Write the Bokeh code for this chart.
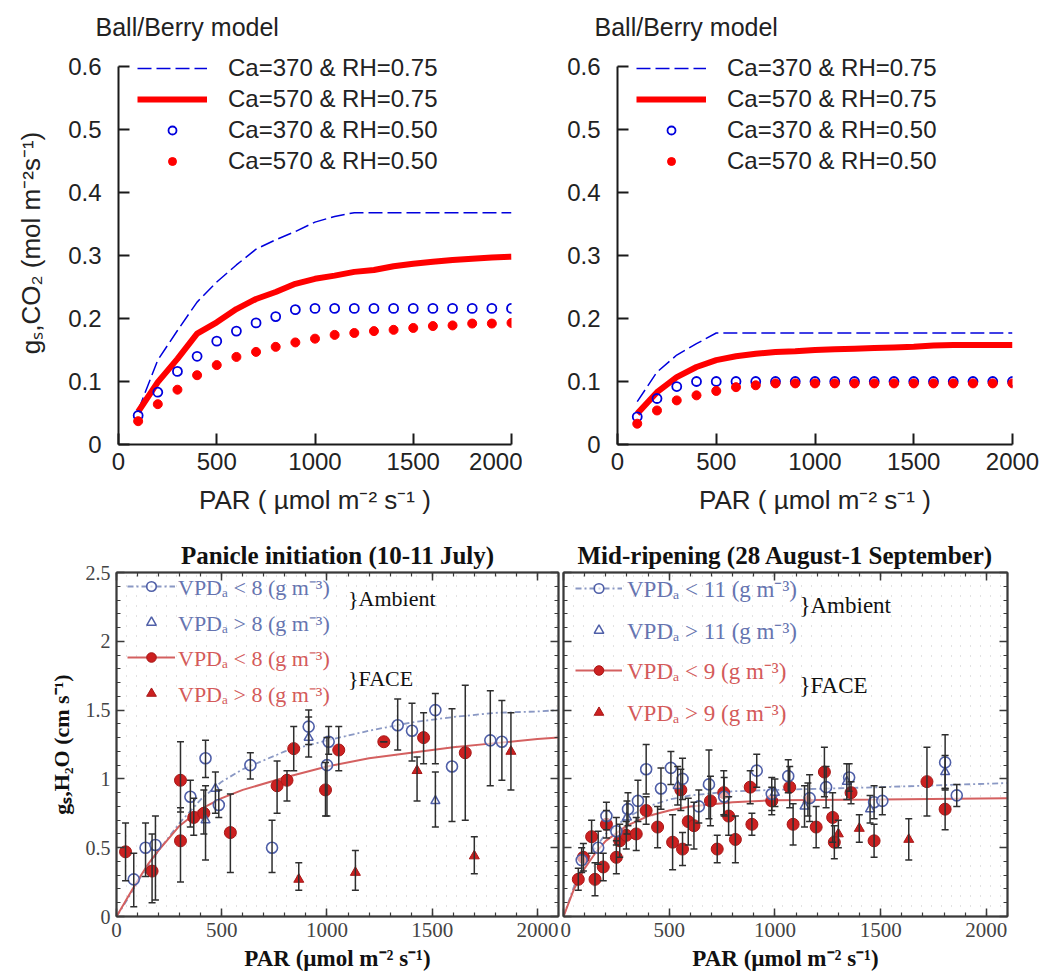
from bokeh.plotting import figure
from bokeh.layouts import column, row
from bokeh.models import (ColumnDataSource, Legend, LegendItem, Whisker, TeeHead,
                          SingleIntervalTicker, FixedTicker, LinearAxis, Label, Range1d)
from bokeh.embed import file_html
from bokeh.resources import INLINE

SANS = "Liberation Sans"
SERIF = "Liberation Serif"

# ---------------- top panels: Ball/Berry model ----------------
par_model = [100, 200, 300, 400, 500, 600, 700, 800, 900, 1000,
             1100, 1200, 1300, 1400, 1500, 1600, 1700, 1800, 1900, 2000]

tl_ca370_rh75 = [0.054, 0.134, 0.181, 0.226, 0.258, 0.285, 0.310, 0.325, 0.338, 0.353,
                 0.362, 0.368, 0.368, 0.368, 0.368, 0.368, 0.368, 0.368, 0.368, 0.368]
tl_ca570_rh75 = [0.052, 0.099, 0.136, 0.176, 0.194, 0.215, 0.231, 0.242, 0.255, 0.263,
                 0.268, 0.274, 0.277, 0.283, 0.287, 0.290, 0.293, 0.295, 0.297, 0.298]
tl_ca370_rh50 = [0.046, 0.083, 0.116, 0.140, 0.164, 0.180, 0.193, 0.203, 0.214, 0.216,
                 0.216, 0.216, 0.216, 0.216, 0.216, 0.216, 0.216, 0.216, 0.216, 0.216]
tl_ca570_rh50 = [0.037, 0.064, 0.087, 0.110, 0.126, 0.139, 0.147, 0.155, 0.162, 0.168,
                 0.174, 0.177, 0.180, 0.182, 0.185, 0.188, 0.189, 0.192, 0.192, 0.193]

tr_ca370_rh75 = [0.068, 0.115, 0.142, 0.160, 0.177, 0.177, 0.177, 0.177, 0.177, 0.177,
                 0.177, 0.177, 0.177, 0.177, 0.177, 0.177, 0.177, 0.177, 0.177, 0.177]
tr_ca570_rh75 = [0.049, 0.083, 0.107, 0.123, 0.134, 0.140, 0.144, 0.147, 0.148, 0.150,
                 0.151, 0.152, 0.153, 0.154, 0.155, 0.157, 0.158, 0.158, 0.158, 0.158]
tr_ca370_rh50 = [0.044, 0.073, 0.092, 0.100, 0.100, 0.100, 0.100, 0.100, 0.100, 0.100,
                 0.100, 0.100, 0.100, 0.100, 0.100, 0.100, 0.100, 0.100, 0.100, 0.100]
tr_ca570_rh50 = [0.033, 0.054, 0.070, 0.078, 0.085, 0.091, 0.094, 0.097, 0.097, 0.097,
                 0.097, 0.097, 0.097, 0.097, 0.097, 0.097, 0.097, 0.097, 0.097, 0.097]

top_legend_labels = ["Ca=370 & RH=0.75", "Ca=570 & RH=0.75",
                     "Ca=370 & RH=0.50", "Ca=570 & RH=0.50"]
top_x_ticks = [0, 500, 1000, 1500, 2000]
top_y_ticks = [0, 0.1, 0.2, 0.3, 0.4, 0.5, 0.6]
top_y_tick_labels = ["0", "0.1", "0.2", "0.3", "0.4", "0.5", "0.6"]

# ---------------- bottom-left: Panicle initiation ----------------
bl_curve_par = [0, 50, 100, 150, 200, 300, 400, 500, 600, 800, 1000, 1200, 1400, 1600, 1800, 2000, 2100]
bl_face_curve = [0.0, 0.13, 0.26, 0.38, 0.48, 0.66, 0.78, 0.86, 0.92, 1.01, 1.09, 1.15, 1.19, 1.23, 1.26, 1.29, 1.30]
bl_amb_curve = [0.0, 0.12, 0.25, 0.37, 0.48, 0.68, 0.85, 0.98, 1.07, 1.20, 1.28, 1.35, 1.41, 1.45, 1.48, 1.49, 1.50]

bl_amb_lt_par = [82, 138, 185, 351, 423, 486, 636, 739, 913, 1008, 1000, 1336, 1404, 1515, 1594, 1776, 1831]
bl_amb_lt_g = [0.27, 0.50, 0.52, 0.87, 1.15, 0.81, 1.10, 0.50, 1.38, 1.27, 1.10, 1.39, 1.35, 1.50, 1.09, 1.28, 1.27]
bl_amb_lt_lo = [0.07, 0.29, 0.12, 0.65, 1.01, 0.72, 1.00, 0.32, 1.25, 1.18, 0.73, 1.21, 1.13, 1.11, 0.69, 0.95, 0.99]
bl_amb_lt_hi = [0.46, 0.68, 0.73, 0.99, 1.28, 0.92, 1.19, 0.70, 1.50, 1.38, 1.30, 1.58, 1.55, 1.62, 1.51, 1.64, 1.57]

bl_amb_gt_par = [423, 470, 913, 1515]
bl_amb_gt_g = [0.70, 0.93, 1.30, 0.84]
bl_amb_gt_lo = [0.41, 0.75, 1.16, 0.65]
bl_amb_gt_hi = [0.95, 1.05, 1.45, 1.05]

bl_face_lt_par = [43, 169, 304, 304, 367, 415, 541, 763, 810, 842, 993, 1056, 1270, 1459, 1657]
bl_face_lt_g = [0.47, 0.33, 0.99, 0.55, 0.72, 0.75, 0.61, 0.95, 0.99, 1.22, 0.92, 1.21, 1.27, 1.30, 1.19]
bl_face_lt_lo = [0.26, 0.10, 0.76, 0.25, 0.59, 0.60, 0.32, 0.75, 0.84, 1.06, 0.73, 1.06, 1.27, 1.11, 0.70]
bl_face_lt_hi = [0.68, 0.60, 1.27, 0.79, 0.86, 0.92, 0.89, 1.13, 1.06, 1.38, 1.12, 1.38, 1.27, 1.48, 1.68]

bl_face_gt_par = [866, 1135, 1428, 1700, 1874]
bl_face_gt_g = [0.27, 0.32, 1.06, 0.44, 1.20]
bl_face_gt_lo = [0.19, 0.19, 0.84, 0.31, 0.92]
bl_face_gt_hi = [0.39, 0.48, 1.16, 0.58, 1.48]

bl_labels = ["VPDₐ < 8 (g m⁻³)", "VPDₐ > 8 (g m⁻³)", "VPDₐ < 8 (g m⁻³)", "VPDₐ > 8 (g m⁻³)"]

# ---------------- bottom-right: Mid-ripening ----------------
br_curve_par = [0, 50, 100, 150, 200, 300, 400, 500, 600, 800, 1000, 1500, 2100]
br_face_curve = [0.0, 0.20, 0.35, 0.46, 0.55, 0.66, 0.73, 0.77, 0.80, 0.83, 0.845, 0.85, 0.86]
br_amb_curve = [0.0, 0.22, 0.38, 0.50, 0.60, 0.72, 0.80, 0.85, 0.88, 0.91, 0.92, 0.94, 0.97]

br_amb_lt_par = [86, 164, 203, 250, 305, 352, 391, 461, 508, 563, 640, 688, 760, 914, 985,
                 1063, 1164, 1242, 1351, 1469, 1508, 1805, 1860]
br_amb_lt_g = [0.41, 0.50, 0.73, 0.62, 0.78, 0.84, 1.07, 0.93, 1.08, 1.00, 0.80, 0.96, 0.87, 1.06, 0.89,
               1.02, 0.86, 0.94, 1.01, 0.83, 0.84, 1.12, 0.88]
br_amb_lt_err = [0.09, 0.12, 0.10, 0.10, 0.12, 0.15, 0.18, 0.15, 0.12, 0.15, 0.12, 0.25, 0.14, 0.12, 0.12,
                 0.12, 0.17, 0.15, 0.10, 0.12, 0.10, 0.20, 0.08]

br_amb_gt_par = [300, 540, 1000, 1140, 1340, 1450, 1805]
br_amb_gt_g = [0.72, 0.95, 0.90, 0.80, 0.98, 0.78, 1.05]
br_amb_gt_err = [0.12, 0.14, 0.10, 0.15, 0.13, 0.10, 0.12]

br_face_lt_par = [70, 94, 133, 149, 188, 203, 250, 266, 297, 344, 391, 445, 516, 555, 563, 590, 617,
                  695, 727, 758, 781, 813, 883, 891, 985, 1070, 1086, 1195, 1234, 1273, 1281, 1360,
                  1469, 1719, 1805]
br_face_lt_g = [0.27, 0.43, 0.58, 0.27, 0.36, 0.67, 0.43, 0.55, 0.59, 0.60, 0.77, 0.65, 0.54, 0.92, 0.49,
                0.69, 0.66, 0.84, 0.49, 0.90, 0.73, 0.56, 0.94, 0.67, 0.84, 0.94, 0.67, 0.65, 1.05,
                0.72, 0.54, 0.90, 0.55, 0.98, 0.78]
br_face_lt_err = [0.08, 0.10, 0.12, 0.12, 0.10, 0.10, 0.12, 0.12, 0.10, 0.12, 0.10, 0.15, 0.20, 0.15, 0.12,
                  0.17, 0.17, 0.18, 0.10, 0.16, 0.14, 0.17, 0.12, 0.08, 0.10, 0.15, 0.15, 0.15, 0.18,
                  0.18, 0.12, 0.08, 0.12, 0.25, 0.15]

br_face_gt_par = [1156, 1300, 1399, 1633]
br_face_gt_g = [0.85, 0.60, 0.64, 0.56]
br_face_gt_err = [0.12, 0.10, 0.10, 0.15]

br_labels = ["VPDₐ < 11 (g m⁻³)", "VPDₐ > 11 (g m⁻³)", "VPDₐ < 9 (g m⁻³)", "VPDₐ > 9 (g m⁻³)"]

bottom_y_tick_labels = {0: "0", 0.5: "0.5", 1: "1", 1.5: "1.5", 2: "2", 2.5: "2.5"}

# ---------------- styles ----------------
BLUE = "#0000dd"
RED = "#ff0000"
AMB = "#4f5fa8"
AMB_TXT = "#6674b0"
AMB_CURVE = "#8a98c4"
FACE = "#cc2020"
FACE_TXT = "#d45a5a"
FACE_CURVE = "#d46060"
ERR = "#2e2e2e"
DOTS = "#c4c4c4"

TOP_H = 525
TOP_BORDER_TOP = 41
TOP_BORDER_BOTTOM = 81
TOP_AXIS_SPAN_PX = 378  # pixel height of the 0..0.6 axis


def top_panel(width, bl, br, ys, ylabel):
    frame_h = TOP_H - TOP_BORDER_TOP - TOP_BORDER_BOTTOM
    y_end = 0.6 * frame_h / TOP_AXIS_SPAN_PX
    p = figure(width=width, height=TOP_H, x_range=Range1d(0, 2000), y_range=Range1d(0, y_end),
               min_border_left=bl, min_border_right=br, min_border_top=TOP_BORDER_TOP,
               min_border_bottom=TOP_BORDER_BOTTOM,
               output_backend="svg", toolbar_location=None, title="Ball/Berry model")
    p.title.text_font = SANS
    p.title.text_font_size = "25px"
    p.title.text_font_style = "normal"
    p.title.text_color = "#222222"
    p.title.align = "left"
    p.title.offset = -23
    p.title.standoff = 2
    p.outline_line_color = None
    p.xgrid.visible = False
    p.ygrid.visible = False
    for ax in (p.xaxis[0], p.yaxis[0]):
        ax.axis_line_width = 2
        ax.axis_line_color = "#1a1a1a"
        ax.major_tick_in = 11
        ax.major_tick_out = 0
        ax.major_tick_line_width = 2
        ax.major_tick_line_color = "#1a1a1a"
        ax.minor_tick_line_color = None
        ax.major_label_text_font = SANS
        ax.major_label_text_font_size = "24px"
        ax.major_label_text_color = "#222222"
        ax.axis_label_text_font = SANS
        ax.axis_label_text_font_size = "26px"
        ax.axis_label_text_font_style = "normal"
        ax.axis_label_text_color = "#222222"
    p.xaxis.ticker = FixedTicker(ticks=top_x_ticks)
    p.yaxis.ticker = FixedTicker(ticks=top_y_ticks)
    p.yaxis.bounds = (top_y_ticks[0], top_y_ticks[-1])
    p.yaxis.major_label_overrides = dict(zip(top_y_ticks, top_y_tick_labels))
    p.xaxis.major_label_standoff = 8
    p.yaxis.major_label_standoff = 17
    p.xaxis.axis_label = "PAR ( µmol m⁻² s⁻¹ )"
    p.xaxis.axis_label_standoff = 12
    if ylabel:
        p.yaxis.axis_label = ylabel
        p.yaxis.axis_label_standoff = 19

    r1 = p.line(par_model, ys[0], line_color=BLUE, line_dash="14 5", line_width=1.5)
    r2 = p.line(par_model, ys[1], line_color=RED, line_width=6)
    r3 = p.scatter(par_model, ys[2], marker="circle", size=9, fill_color=None,
                   line_color=BLUE, line_width=1.8)
    r4 = p.scatter(par_model, ys[3], marker="circle", size=9, fill_color=RED,
                   line_color=RED, line_width=1)
    items = [LegendItem(label=lab, renderers=[r]) for lab, r in zip(top_legend_labels, [r1, r2, r3, r4])]
    leg = Legend(items=items, location=(19, 269), glyph_width=70, glyph_height=20,
                 label_height=20, spacing=3, padding=0, margin=0, label_standoff=21,
                 background_fill_alpha=0, border_line_color=None,
                 label_text_font=SANS, label_text_font_size="24px", label_text_color="#222222")
    p.add_layout(leg)
    return p


def style_bottom_axis(ax, show_labels):
    ax.axis_line_width = 2
    ax.axis_line_color = "#3a3a3a"
    ax.major_tick_in = 8
    ax.major_tick_out = 0
    ax.minor_tick_in = 4
    ax.minor_tick_out = 0
    ax.major_tick_line_width = 1.5
    ax.minor_tick_line_width = 1.2
    ax.major_tick_line_color = "#3a3a3a"
    ax.minor_tick_line_color = "#3a3a3a"
    ax.major_label_text_font = SERIF
    ax.axis_label_text_font = SERIF
    ax.axis_label_text_font_style = "bold"
    ax.axis_label_text_font_size = "23px"
    ax.axis_label_text_color = "#111111"
    if show_labels:
        ax.major_label_text_font_size = "21px"
        ax.major_label_text_color = "#444444"
    else:
        ax.major_label_text_font_size = "1px"
        ax.major_label_text_color = None
        ax.major_label_standoff = 0


def add_err(p, xs, lo, hi):
    src = ColumnDataSource(dict(x=xs, lo=lo, hi=hi))
    w = Whisker(source=src, base="x", lower="lo", upper="hi", line_color=ERR, line_width=1.5,
                upper_head=TeeHead(size=7, line_color=ERR, line_width=1.5),
                lower_head=TeeHead(size=7, line_color=ERR, line_width=1.5), level="glyph")
    p.add_layout(w)


def bottom_panel(width, bl, br, title, show_ylabels, d, labels, leg_pos, brace_pos, font_px, dot_step):
    p = figure(width=width, height=451, x_range=Range1d(0, 2100), y_range=Range1d(0, 2.5),
               min_border_left=bl, min_border_right=br, min_border_top=47, min_border_bottom=60,
               output_backend="svg", toolbar_location=None, title=title)
    p.title.text_font = SERIF
    p.title.text_font_size = "25px"
    p.title.text_font_style = "bold"
    p.title.text_color = "#111111"
    p.title.align = "center"
    p.title.standoff = 7
    p.outline_line_color = "#3a3a3a"
    p.outline_line_width = 1.5
    # faint dotted halftone-like background
    p.xgrid.ticker = SingleIntervalTicker(interval=dot_step)
    p.xgrid.grid_line_color = DOTS
    p.xgrid.grid_line_dash = "1 9"
    p.xgrid.grid_line_width = 1
    p.ygrid.visible = False
    p.add_layout(LinearAxis(), "above")
    p.add_layout(LinearAxis(), "right")
    for ax in p.xaxis:
        ax.ticker = SingleIntervalTicker(interval=500, num_minor_ticks=5)
    for ax in p.yaxis:
        ax.ticker = SingleIntervalTicker(interval=0.5, num_minor_ticks=5)
        ax.major_label_overrides = bottom_y_tick_labels
    style_bottom_axis(p.below[0], True)
    style_bottom_axis(p.above[0], False)
    style_bottom_axis(p.left[0], show_ylabels)
    style_bottom_axis(p.right[0], False)
    p.below[0].major_label_standoff = 6
    p.below[0].axis_label = "PAR (µmol m⁻² s⁻¹)"
    p.below[0].axis_label_standoff = 6
    if show_ylabels:
        p.left[0].major_label_text_font_size = "20px"
        p.left[0].major_label_standoff = 6
        p.left[0].axis_label = "gₛ,H₂O (cm s⁻¹)"
        p.left[0].axis_label_text_font_size = "22px"
        p.left[0].axis_label_standoff = 9

    # fitted curves
    c_amb = p.line(d["curve_par"], d["amb_curve"], line_color=AMB_CURVE, line_dash="6 3 2 3", line_width=1.8)
    c_face = p.line(d["curve_par"], d["face_curve"], line_color=FACE_CURVE, line_width=2)
    # error bars
    add_err(p, d["amb_lt_par"], d["amb_lt_lo"], d["amb_lt_hi"])
    add_err(p, d["amb_gt_par"], d["amb_gt_lo"], d["amb_gt_hi"])
    add_err(p, d["face_lt_par"], d["face_lt_lo"], d["face_lt_hi"])
    add_err(p, d["face_gt_par"], d["face_gt_lo"], d["face_gt_hi"])
    # markers
    s_face_lt = p.scatter(d["face_lt_par"], d["face_lt_g"], marker="circle", size=12,
                          fill_color=FACE, line_color="#a81818", line_width=1)
    s_face_gt = p.scatter(d["face_gt_par"], d["face_gt_g"], marker="triangle", size=10,
                          fill_color=FACE, line_color="#a81818", line_width=1)
    s_amb_lt = p.scatter(d["amb_lt_par"], d["amb_lt_g"], marker="circle", size=11,
                         fill_color="white", fill_alpha=0.6, line_color=AMB, line_width=1.6)
    s_amb_gt = p.scatter(d["amb_gt_par"], d["amb_gt_g"], marker="triangle", size=9,
                         fill_color="white", fill_alpha=0.6, line_color=AMB, line_width=1.5)

    (ax_, ay_), (fx_, fy_), gw, std, sp = leg_pos
    leg_amb = Legend(items=[LegendItem(label=labels[0], renderers=[c_amb, s_amb_lt]),
                            LegendItem(label=labels[1], renderers=[s_amb_gt])],
                     location=(ax_, ay_), glyph_width=gw, glyph_height=24, label_height=24,
                     spacing=sp, padding=0, margin=0, label_standoff=std,
                     background_fill_alpha=0, border_line_color=None,
                     label_text_font=SERIF, label_text_font_size=font_px, label_text_color=AMB_TXT)
    leg_face = Legend(items=[LegendItem(label=labels[2], renderers=[c_face, s_face_lt]),
                             LegendItem(label=labels[3], renderers=[s_face_gt])],
                      location=(fx_, fy_), glyph_width=gw, glyph_height=24, label_height=24,
                      spacing=sp, padding=0, margin=0, label_standoff=std,
                      background_fill_alpha=0, border_line_color=None,
                      label_text_font=SERIF, label_text_font_size=font_px, label_text_color=FACE_TXT)
    p.add_layout(leg_amb)
    p.add_layout(leg_face)
    (bx, by_amb, by_face) = brace_pos
    p.add_layout(Label(x=bx, y=by_amb, text="}Ambient", text_font=SERIF, text_font_size=font_px,
                       text_color="#111111", text_baseline="middle"))
    p.add_layout(Label(x=bx, y=by_face, text="}FACE", text_font=SERIF, text_font_size=font_px,
                       text_color="#111111", text_baseline="middle"))
    return p


def mk(g, err):
    return [a - e for a, e in zip(g, err)], [a + e for a, e in zip(g, err)]


bl_data = dict(curve_par=bl_curve_par, amb_curve=bl_amb_curve, face_curve=bl_face_curve,
               amb_lt_par=bl_amb_lt_par, amb_lt_g=bl_amb_lt_g, amb_lt_lo=bl_amb_lt_lo, amb_lt_hi=bl_amb_lt_hi,
               amb_gt_par=bl_amb_gt_par, amb_gt_g=bl_amb_gt_g, amb_gt_lo=bl_amb_gt_lo, amb_gt_hi=bl_amb_gt_hi,
               face_lt_par=bl_face_lt_par, face_lt_g=bl_face_lt_g, face_lt_lo=bl_face_lt_lo, face_lt_hi=bl_face_lt_hi,
               face_gt_par=bl_face_gt_par, face_gt_g=bl_face_gt_g, face_gt_lo=bl_face_gt_lo, face_gt_hi=bl_face_gt_hi)

br_data = dict(curve_par=br_curve_par, amb_curve=br_amb_curve, face_curve=br_face_curve)
for key, par, g, err in [("amb_lt", br_amb_lt_par, br_amb_lt_g, br_amb_lt_err),
                         ("amb_gt", br_amb_gt_par, br_amb_gt_g, br_amb_gt_err),
                         ("face_lt", br_face_lt_par, br_face_lt_g, br_face_lt_err),
                         ("face_gt", br_face_gt_par, br_face_gt_g, br_face_gt_err)]:
    lo, hi = mk(g, err)
    br_data[key + "_par"] = par
    br_data[key + "_g"] = g
    br_data[key + "_lo"] = lo
    br_data[key + "_hi"] = hi

p1 = top_panel(522, 118, 11, [tl_ca370_rh75, tl_ca570_rh75, tl_ca370_rh50, tl_ca570_rh50],
               "gₛ,CO₂ (mol m⁻²s⁻¹)")
p2 = top_panel(523, 95, 33, [tr_ca370_rh75, tr_ca570_rh75, tr_ca370_rh50, tr_ca570_rh50], None)

p3 = bottom_panel(560, 116, 2, "Panicle initiation (10-11 July)", True, bl_data, bl_labels,
                  ((11, 279), (11, 208), 48, 3, 6), (1100, 2.31, 1.73), "22px", 47.5)
p4 = bottom_panel(485, 3, 38, "Mid-ripening (28 August-1 September)", False, br_data, br_labels,
                  ((12, 270), (12, 188), 47, 5, 10), (1116, 2.26, 1.68), "23px", 47.0)

layout = column(row(p1, p2, spacing=0), row(p3, p4, spacing=0), spacing=0)
open("out.html", "w").write(file_html(layout, INLINE))
